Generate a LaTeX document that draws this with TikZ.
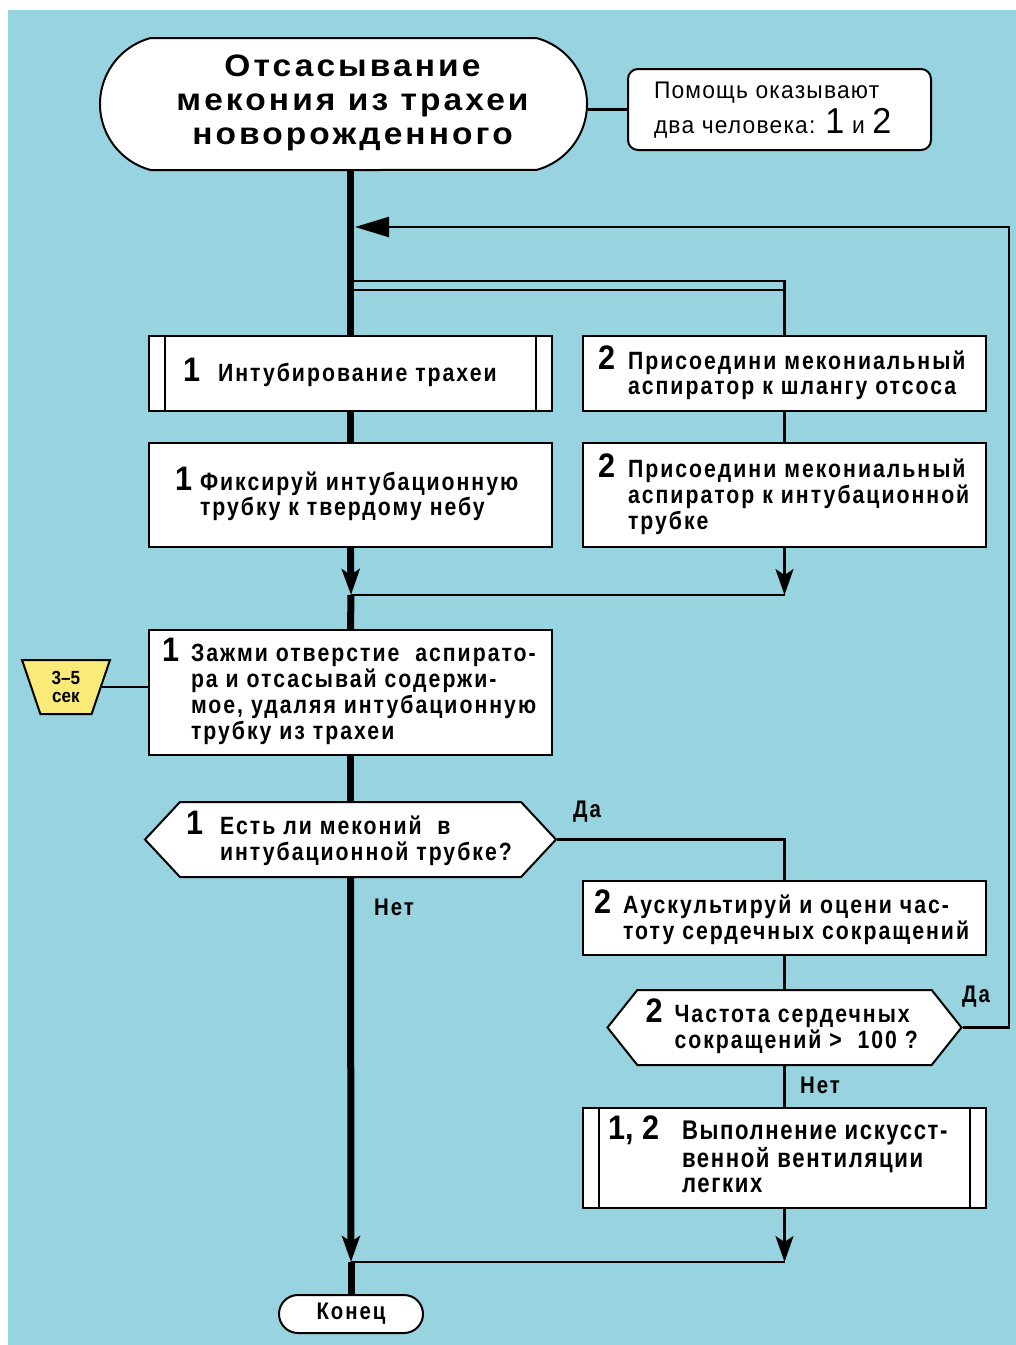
\documentclass[tikz,border=0pt]{standalone}
\usepackage{fontspec}
\setmainfont{Liberation Sans}
\newfontfamily\bodyfont{Liberation Sans}[FakeStretch=0.85,LetterSpace=8]
\newfontfamily\titlefont{Liberation Sans}[FakeStretch=1.08,LetterSpace=10]
\newfontfamily\helpfont{Liberation Sans}[FakeStretch=0.95,LetterSpace=5]
\newfontfamily\narrowfont{Liberation Sans}[FakeStretch=0.82,LetterSpace=6]
\newfontfamily\numfont{Liberation Sans}[FakeStretch=0.9]
\usetikzlibrary{shapes.geometric, shapes.misc, shapes.symbols, arrows.meta, positioning}

\definecolor{sky}{RGB}{152,211,224}
\definecolor{clock}{RGB}{250,234,120}

\newcommand{\stepno}[1]{{\numfont\bfseries\fontsize{17}{17}\selectfont #1}}
\newcommand{\steptext}[4]{\makebox[#1][l]{\makebox[#2][l]{\stepno{#3}}\begin{tabular}[t]{@{}l@{}}#4\end{tabular}}}

\begin{document}
\begin{tikzpicture}[x=0.5pt, y=-0.5pt,
    box/.style={draw, line width=1pt, fill=white, inner sep=0pt, minimum width=201.5pt, minimum height=37.5pt, font=\bodyfont\bfseries\fontsize{12.5}{12.5}\selectfont},
    subproc/.style={box, path picture={
        \draw[line width=1pt] ([xshift=8pt]path picture bounding box.north west) -- ([xshift=8pt]path picture bounding box.south west);
        \draw[line width=1pt] ([xshift=-8pt]path picture bounding box.north east) -- ([xshift=-8pt]path picture bounding box.south east);}},
    decision/.style={box, signal, signal to=west and east, signal pointer angle=94},
    terminal/.style={rounded rectangle, draw, line width=1pt, fill=white, inner sep=0pt},
    helpbox/.style={draw, line width=1pt, fill=white, rounded corners=5pt, inner sep=0pt, minimum width=151.5pt, minimum height=40.5pt, font=\helpfont\fontsize{12}{16}\selectfont},
    timer/.style={trapezium, trapezium left angle=72, trapezium right angle=72, shape border rotate=180, trapezium stretches=true, draw, line width=1pt, fill=clock, inner sep=0pt, minimum width=44pt, minimum height=27pt, align=center, font=\numfont\bfseries\fontsize{9.5}{9}\selectfont},
    note/.style={font=\bodyfont\bfseries\fontsize{12}{12}\selectfont, inner sep=0pt},
    spine/.style={line width=3.5pt},
    flow/.style={line width=1.2pt},
    joinarrow/.style={-{Stealth[length=13pt,width=9pt,inset=3pt]}},
    backarrow/.style={-{Triangle[length=17pt,width=10pt]}}
]
\fill[white] (0,0) rectangle (1016,1345);
\fill[sky] (8,10) rectangle (1016,1345);
\useasboundingbox (0,0) rectangle (1016,1345);

% left column
\node[terminal, rounded rectangle arc length=150, minimum width=243.5pt, minimum height=66pt,
      font=\titlefont\bfseries\fontsize{15.5}{17}\selectfont] (start) at (343.5,104)
      {\hspace*{9pt}\begin{tabular}{@{}c@{}}Отсасывание\\мекония из трахеи\\новорожденного\end{tabular}};
\node[helpbox] (help) at (779.5,109.5)
      {\makebox[125.5pt][l]{\begin{tabular}{@{}l@{}}Помощь оказывают\\два человека: {\fontsize{18}{16}\selectfont 1} и {\fontsize{18}{16}\selectfont 2}\end{tabular}}};
\node[subproc] (intub) at (350.5,373.5) {\steptext{167.5pt}{17.5pt}{1}{Интубирование трахеи}};
\node[box, below=15pt of intub, minimum height=52pt] (fix) {\steptext{175.5pt}{12.5pt}{1}{Фиксируй интубационную\\трубку к твердому небу}};
\node[box, below=40.5pt of fix, minimum height=62.5pt] (suction) {\steptext{188.5pt}{14.5pt}{1}{Зажми отверстие\ \ аспирато-\\ра и отсасывай содержи-\\мое, удаляя интубационную\\трубку из трахеи}};
\node[timer] (timer) at (66,687) {3–5\\сек};
\node[decision, below=22.5pt of suction, minimum width=205.5pt] (mecq) {\steptext{164.5pt}{17pt}{1}{Есть ли меконий\ \ в\\интубационной трубке?}};
\node[terminal, minimum width=72pt, minimum height=19pt, font=\bodyfont\bfseries\fontsize{12}{12}\selectfont] (stop) at (351,1314) {Конец};

% right column
\node[box, right=14.5pt of intub] (hose) {\steptext{186.5pt}{15pt}{2}{Присоедини мекониальный\\аспиратор к шлангу отсоса}};
\node[box, right=14.5pt of fix, minimum height=52pt] (attach) {\steptext{186.5pt}{15pt}{2}{Присоедини мекониальный\\аспиратор к интубационной\\трубке}};
\node[box, minimum height=37pt] (hr) at (784.5,918) {\steptext{190.5pt}{14.5pt}{2}{Аускультируй и оцени час-\\тоту сердечных сокращений}};
\node[decision, below=16.5pt of hr, minimum width=177pt, signal pointer angle=103] (hrq) {\steptext{139pt}{14.5pt}{2}{Частота сердечных\\сокращений >\ \ 100 ?}};
\node[subproc, below=20.5pt of hrq, minimum height=50pt, font=\narrowfont\bfseries\fontsize{13.5}{12.5}\selectfont] (ivl) {\steptext{176.5pt}{37pt}{1,~2}{Выполнение искусст-\\венной вентиляции\\легких}};

% labels
\node[note] (yes1) at (587,812) {Да};
\node[note] (no1) at (394,907) {Нет};
\node[note] (yes2) at (976,997) {Да};
\node[note] (no2) at (820,1085) {Нет};

\coordinate (fork1) at (351,281);
\coordinate (fork2) at (351,290);
\coordinate (join1) at (351,595);
\coordinate (join2) at (351,1262);
\coordinate (loopin) at (355,227);
\coordinate (loopcorner) at (1009,1027.5);

% main line
\draw[spine] (start.south -| intub.north) -- (intub.north);
\draw[spine] (intub.south) -- (fix.north);
\draw[spine, joinarrow] (fix.south) -- (join1);
\draw[spine] (join1) -- (suction.north);
\draw[spine] (suction.south) -- (mecq.north);
\draw[spine, joinarrow] (mecq.south) -- (join2);
\draw[spine] (join2) -- (stop.north);

% side lines
\draw[flow] (start.east |- help.west) -- (help.west);
\draw[flow] (fork1) -| (hose.north);
\draw[flow] (fork2) -- (fork2 -| hose.north);
\draw[flow] (hose.south) -- (attach.north);
\draw[flow, joinarrow] (attach.south) -- (attach.south |- join1);
\draw[flow] (join1) -- (attach.south |- join1);
\draw[flow] (timer.east) -- (timer.east -| suction.west);
\draw[flow] (mecq.east) -| (hr.north);
\draw[flow] (hr.south) -- (hrq.north);
\draw[flow] (hrq.south) -- (ivl.north);
\draw[flow, joinarrow] (ivl.south) -- (ivl.south |- join2);
\draw[flow] (join2) -- (ivl.south |- join2);
\draw[flow, backarrow] (hrq.east) -- (loopcorner) |- (loopin);
\end{tikzpicture}
\end{document}
